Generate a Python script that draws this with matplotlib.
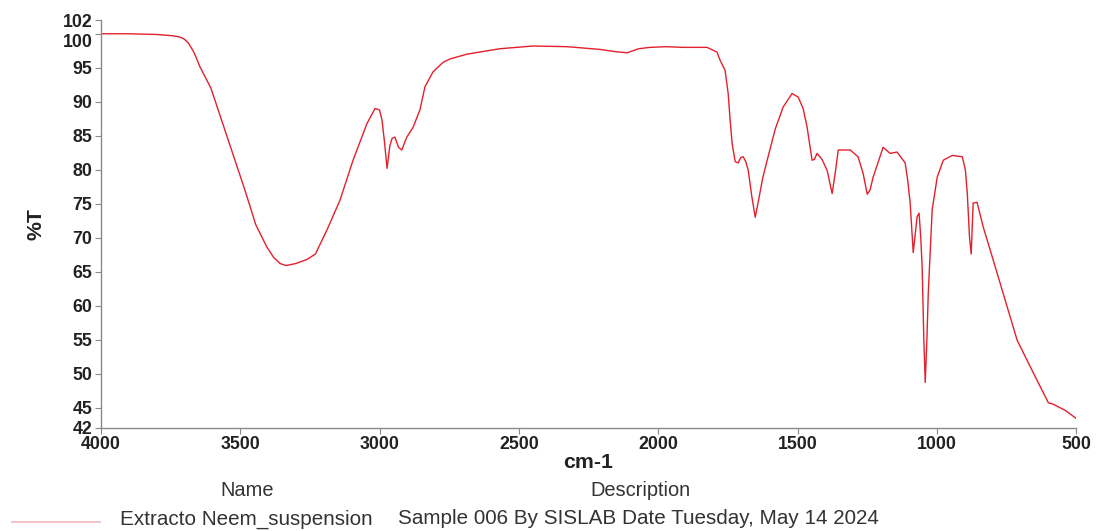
import matplotlib
matplotlib.use("Agg")
import matplotlib.pyplot as plt
from matplotlib.lines import Line2D
from matplotlib import font_manager

# the source uses a narrow Arial-like face
installed = {f.name for f in font_manager.fontManager.ttflist}
narrow = 'Liberation Sans Narrow' in installed
plt.rcParams['font.family'] = (['Liberation Sans Narrow'] if narrow else []) + ['Liberation Sans', 'DejaVu Sans']
k = 1.0 if narrow else 0.85

# spectrum (wavenumber cm-1, %T)
wavenumber = [4000, 3900, 3800, 3740, 3715, 3700, 3685, 3665, 3645, 3605, 3544, 3483, 3444,
              3404, 3380, 3357, 3335, 3300, 3260, 3230, 3189, 3142, 3095, 3045, 3016, 3000,
              2991, 2982, 2973, 2963, 2955, 2945, 2932, 2920, 2910, 2902, 2880, 2855, 2837,
              2808, 2772, 2747, 2686, 2568, 2449, 2327, 2209, 2160, 2112, 2070, 2029, 1970,
              1911, 1825, 1789, 1778, 1760, 1749, 1742, 1735, 1724, 1713, 1704, 1695,
              1686, 1677, 1664, 1652, 1640, 1625, 1609, 1580, 1552, 1520, 1498, 1480,
              1466, 1448, 1440, 1430, 1412, 1394, 1376, 1365, 1354, 1311, 1283, 1265,
              1250, 1240, 1229, 1193, 1168, 1143, 1114, 1105, 1096, 1085, 1078, 1071,
              1064, 1058, 1053, 1047, 1042, 1036, 1031, 1017, 999, 977, 945, 909,
              898, 891, 883, 877, 873, 870, 856, 834, 798, 737, 712, 654, 600, 583, 540, 500]
transmittance = [100.0, 100.0, 99.9, 99.7, 99.5, 99.2, 98.6, 97.2, 95.2, 92.0, 84.5, 77.0, 71.9,
                 68.6, 67.1, 66.2, 65.9, 66.2, 66.8, 67.6, 71.1, 75.5, 81.4, 86.8, 89.0, 88.8,
                 87.3, 84.0, 80.2, 83.5, 84.6, 84.8, 83.3, 82.9, 84.0, 84.8, 86.2, 88.8, 92.2,
                 94.4, 95.8, 96.3, 97.0, 97.8, 98.2, 98.1, 97.7, 97.4, 97.2, 97.8, 98.0, 98.1,
                 98.0, 98.0, 97.3, 96.1, 94.6, 91.2, 87.3, 83.9, 81.2, 81.0, 81.8, 81.9,
                 81.2, 79.9, 76.0, 73.0, 75.5, 78.8, 81.4, 86.0, 89.2, 91.2, 90.7, 89.0,
                 86.3, 81.4, 81.5, 82.4, 81.5, 79.9, 76.5, 79.5, 82.9, 82.9, 81.9, 79.5,
                 76.4, 77.0, 78.9, 83.3, 82.4, 82.6, 81.0, 78.5, 75.1, 67.8, 70.5, 73.1,
                 73.6, 70.0, 65.7, 55.0, 48.7, 55.0, 61.9, 74.1, 78.9, 81.4, 82.1, 81.9,
                 80.0, 76.5, 70.0, 67.6, 72.0, 75.1, 75.2, 71.6, 66.7, 58.3, 54.9, 50.1,
                 45.7, 45.5, 44.6, 43.4]

x_ticks = [4000, 3500, 3000, 2500, 2000, 1500, 1000, 500]
y_ticks = [42, 45, 50, 55, 60, 65, 70, 75, 80, 85, 90, 95, 100, 102]

fig = plt.figure(figsize=(10.96, 5.31), dpi=100)
ax = fig.add_axes([0.092, 0.194, 0.890, 0.768])

ax.plot(wavenumber, transmittance, color='#e3202b', lw=1.0)

ax.set_xlim(4000, 500)
ax.set_ylim(42, 102)
ax.set_xticks(x_ticks)
ax.set_yticks(y_ticks)
ax.set_xticklabels([str(v) for v in x_ticks], fontsize=15 * k, fontweight='bold', color='#222222')
ylabels = ax.set_yticklabels([str(v) for v in y_ticks], fontsize=15 * k, fontweight='bold', color='#222222')
ylabels[-2].set_va('top')  # 100 sits just under 102, like the source

for s in ['top', 'right']:
    ax.spines[s].set_visible(False)
for s in ['left', 'bottom']:
    ax.spines[s].set_color('#8a8a8a')
    ax.spines[s].set_linewidth(1.0)
ax.tick_params(axis='both', length=4, width=0.8, color='#8a8a8a', pad=2)

ax.set_xlabel('cm-1', fontsize=18 * k, fontweight='bold', color='#222222', labelpad=0)
ax.set_ylabel('%T', fontsize=18 * k, fontweight='bold', color='#222222', labelpad=12)

# footer with sample info
fig.text(247 / 1096, 1 - 490 / 531, 'Name', fontsize=17 * k, color='#333333', ha='center', va='center')
fig.text(640 / 1096, 1 - 490 / 531, 'Description', fontsize=17 * k, color='#333333', ha='center', va='center')
fig.add_artist(Line2D([12 / 1096, 100 / 1096], [1 - 522 / 531, 1 - 522 / 531],
                      color='#f2b8b8', lw=1.2))
fig.text(120 / 1096, 1 - 519 / 531, 'Extracto Neem_suspension', fontsize=17.5 * k, color='#333333',
         ha='left', va='center')
fig.text(398 / 1096, 1 - 519 / 531, 'Sample 006 By SISLAB Date Tuesday, May 14 2024', fontsize=17.5 * k,
         color='#333333', ha='left', va='center')

fig.savefig('out.png', dpi=100)
